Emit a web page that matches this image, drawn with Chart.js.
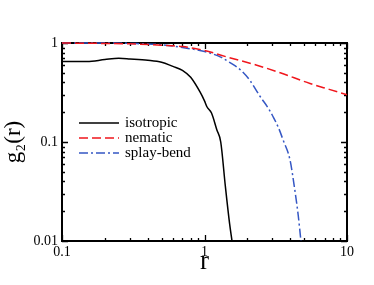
<!DOCTYPE html>
<html>
<head>
<meta charset="utf-8">
<script src="https://cdn.jsdelivr.net/npm/chart.js@4/dist/chart.umd.min.js"></script>
<style>
  html, body { margin: 0; padding: 0; background: #fff; }
</style>
</head>
<body>
<canvas id="g2Chart" width="374" height="285"></canvas>
<script>
// datos
const isoR = [0.1, 0.15, 0.2, 0.25, 0.3, 0.4, 0.5, 0.6, 0.7, 0.8, 0.93, 1.0, 1.04, 1.12, 1.22, 1.3, 1.4, 1.5, 1.56];
const isoG = [0.65, 0.65, 0.68, 0.70, 0.69, 0.67, 0.64, 0.58, 0.53, 0.45, 0.32, 0.26, 0.227, 0.196, 0.133, 0.10, 0.036, 0.015, 0.01];
const nemR = [0.1, 0.2, 0.3, 0.5, 0.7, 1.0, 1.5, 2.3, 3.4, 5.5, 7.5, 10];
const nemG = [1.0, 0.99, 0.98, 0.95, 0.92, 0.84, 0.71, 0.60, 0.50, 0.39, 0.34, 0.30];
const spbR = [0.1, 0.2, 0.3, 0.5, 0.7, 1.0, 1.3, 1.52, 1.8, 2.08, 2.45, 2.8, 3.03, 3.3, 3.56, 3.98, 4.3, 4.55, 4.75];
const spbG = [1.0, 1.0, 0.99, 0.96, 0.90, 0.82, 0.72, 0.63, 0.53, 0.42, 0.29, 0.22, 0.18, 0.14, 0.105, 0.066, 0.033, 0.018, 0.01];
const labels = ['isotropic', 'nematic', 'splay-bend'];
const xTickVals = [0.1, 1, 10];
const yTickVals = [0.01, 0.1, 1];

const serif = '"Liberation Serif", "DejaVu Serif", serif';

function pts(xs, ys) {
  return xs.map((x, i) => ({ x: x, y: ys[i] }));
}

function minorTicks(lo, hi) {
  const out = [];
  for (let d = lo; d < hi * 1.0001; d *= 10) {
    for (let k = 1; k <= 9; k++) {
      const v = +(d * k).toPrecision(6);
      if (v <= hi * 1.0001) out.push({ value: v });
    }
  }
  return out;
}

// marco y marcas hacia dentro en los cuatro lados
const framePlugin = {
  id: 'frame',
  beforeDatasetsDraw(chart) {
    const { ctx, chartArea: a, scales } = chart;
    ctx.save();
    ctx.strokeStyle = '#000';
    ctx.lineWidth = 1.3;
    scales.x.ticks.forEach(t => {
      const px = Math.round(scales.x.getPixelForValue(t.value)) + 0.5;
      const len = xTickVals.includes(t.value) ? 6 : 3;
      ctx.beginPath();
      ctx.moveTo(px, a.bottom); ctx.lineTo(px, a.bottom - len);
      ctx.moveTo(px, a.top); ctx.lineTo(px, a.top + len);
      ctx.stroke();
    });
    scales.y.ticks.forEach(t => {
      const py = Math.round(scales.y.getPixelForValue(t.value)) + 0.5;
      const len = yTickVals.includes(t.value) ? 6 : 3;
      ctx.beginPath();
      ctx.moveTo(a.left, py); ctx.lineTo(a.left + len, py);
      ctx.moveTo(a.right, py); ctx.lineTo(a.right - len, py);
      ctx.stroke();
    });
    ctx.lineWidth = 2;
    ctx.strokeRect(a.left, a.top, a.right - a.left, a.bottom - a.top);
    ctx.restore();
  },
  // leyenda dentro del area
  afterDatasetsDraw(chart) {
    const ctx = chart.ctx;
    const lx = 79, ly = 123, gap = 15;
    ctx.save();
    ctx.font = '15px ' + serif;
    ctx.textBaseline = 'middle';
    chart.data.datasets.forEach((ds, i) => {
      const y = ly + i * gap;
      ctx.beginPath();
      ctx.strokeStyle = ds.borderColor;
      ctx.lineWidth = ds.borderWidth;
      ctx.setLineDash(ds.borderDash || []);
      ctx.moveTo(lx, y); ctx.lineTo(lx + 40, y);
      ctx.stroke();
      ctx.setLineDash([]);
      ctx.fillStyle = '#000';
      ctx.fillText(ds.label, lx + 46, y);
    });
    ctx.restore();
  }
};

const ctx = document.getElementById('g2Chart').getContext('2d');
new Chart(ctx, {
  type: 'line',
  data: {
    datasets: [
      { label: labels[0], data: pts(isoR, isoG), borderColor: '#000000', borderWidth: 1.5 },
      { label: labels[1], data: pts(nemR, nemG), borderColor: '#f0161c', borderWidth: 1.5, borderDash: [9, 4] },
      { label: labels[2], data: pts(spbR, spbG), borderColor: '#3557c4', borderWidth: 1.5, borderDash: [9, 3, 2, 3] }
    ]
  },
  options: {
    responsive: false,
    animation: false,
    devicePixelRatio: 1,
    layout: { padding: { top: 43, right: 27, left: 0, bottom: 0 } },
    datasets: { line: { clip: 3 } },
    elements: { point: { radius: 0 }, line: { cubicInterpolationMode: 'monotone', fill: false } },
    plugins: { legend: { display: false }, tooltip: { enabled: false } },
    scales: {
      x: {
        type: 'logarithmic',
        min: 0.1, max: 10,
        afterBuildTicks: s => { s.ticks = minorTicks(0.1, 10); },
        afterFit: s => { s.height = 44; },
        grid: { display: false, drawTicks: false },
        border: { display: false },
        ticks: {
          autoSkip: false, maxRotation: 0, padding: 3,
          color: '#000', font: { family: serif, size: 14 },
          callback: v => xTickVals.includes(v) ? String(v) : ''
        },
        title: { display: true, text: 'r', color: '#000', padding: { top: 0, bottom: 7 },
                 font: { family: serif, size: 27 } }
      },
      y: {
        type: 'logarithmic',
        min: 0.01, max: 1,
        afterBuildTicks: s => { s.ticks = minorTicks(0.01, 1); },
        afterFit: s => { s.width = 62; },
        grid: { display: false, drawTicks: false },
        border: { display: false },
        ticks: {
          autoSkip: false, padding: 4,
          color: '#000', font: { family: serif, size: 14 },
          callback: v => yTickVals.includes(v) ? String(v) : ''
        },
        title: { display: true, text: 'g\u2082(r)', color: '#000', padding: { top: 0, bottom: 0 },
                 font: { family: serif, size: 23 } }
      }
    }
  },
  plugins: [framePlugin]
});
</script>
</body>
</html>
